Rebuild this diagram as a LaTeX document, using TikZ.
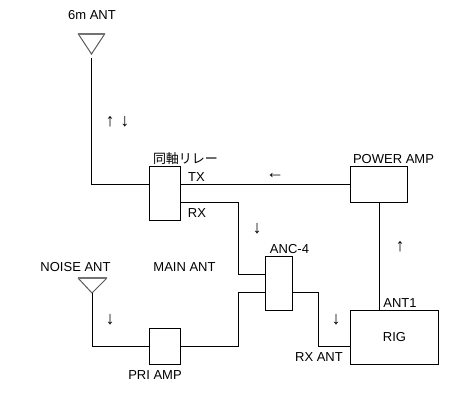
\documentclass[tikz,border=0pt]{standalone}
\usepackage{fontspec}
\setmainfont{Liberation Sans}
\newfontfamily\cjk{Noto Sans CJK JP}
\usetikzlibrary{calc}
\tikzset{
 box/.style={draw,line width=1pt,inner sep=0pt,minimum width=#1,font=\fontsize{13pt}{13pt}\selectfont},
 lbl/.style={inner sep=0pt,font=\fontsize{13pt}{13pt}\selectfont},
 dir/.style={inner sep=0pt,font=\fontsize{18pt}{18pt}\selectfont},
 wire/.style={line width=1pt},
 ant/.style={line width=1pt,draw=black!65},
 anttop/.style={line width=2pt,draw=black!55}
}
\begin{document}
\begin{tikzpicture}[x=1pt,y=-1pt]
 \useasboundingbox (0,0) rectangle (467,405);
 \node[box=31pt,minimum height=54pt] (relay) at (165,193) {};
 \node[box=57pt,minimum height=36pt] (pa) at (379,184.5) {};
 \node[box=27pt,minimum height=54pt] (anc) at (279,283) {};
 \node[box=31pt,minimum height=36pt] (pri) at (165,346) {};
 \node[box=88pt,minimum height=54pt] (rig) at (394.5,337) {RIG};
 % antennas
 \coordinate (sixtl) at (78,33.5);
 \coordinate (sixtr) at (105,33.5);
 \coordinate (sixtip) at (91.5,54);
 \coordinate (sixfeed) at (91.5,58);
 \draw[ant] (sixtl)--(sixtip)--(sixtr);
 \draw[anttop] (sixtl)--(sixtr);
 \coordinate (noisetl) at (78,278);
 \coordinate (noisetr) at (107,278);
 \coordinate (noisetip) at (92,293);
 \draw[ant] (noisetl)--(noisetip)--(noisetr);
 \draw[anttop] (noisetl)--(noisetr);
 % wires
 \coordinate (relayin) at ($(relay.west)+(0,-9)$);
 \coordinate (relaytx) at ($(relay.east)+(0,-9)$);
 \coordinate (relayrx) at ($(relay.east)+(0,9)$);
 \coordinate (ancmain) at ($(anc.west)+(0,-9)$);
 \coordinate (ancnoise) at ($(anc.west)+(0,9)$);
 \coordinate (ancout) at ($(anc.east)+(0,9)$);
 \coordinate (rigrx) at ($(rig.west)+(0,9)$);
 \coordinate (rigant) at (rig.north-|pa.south);
 \draw[wire] (sixfeed)--(sixfeed|-relayin)--(relayin);
 \draw[wire] (relaytx)--(relaytx-|pa.west);
 \draw[wire] (relayrx)--(238,202)--(238,274)--(ancmain);
 \draw[wire] (noisetip)--(noisetip|-pri.west)--(pri.west);
 \draw[wire] (pri.east)--(238,346)--(238,292)--(ancnoise);
 \draw[wire] (ancout)--(318,292)--(318,346)--(rigrx);
 \draw[wire] (pa.south)--(rigant);
 % labels
 \node[lbl] (sixlbl) at (92,15) {6m ANT};
 \node[lbl] (noiselbl) at (75.5,267) {NOISE ANT};
 \node[lbl] (mainlbl) at (184.5,267) {MAIN ANT};
 \node[lbl] (prilbl) at (155,375) {PRI AMP};
 \node[lbl,font=\fontsize{13pt}{13pt}\cjk] (relaylbl) at (185.5,159) {同軸リレー};
 \node[lbl] (txlbl) at (196.5,177) {TX};
 \node[lbl] (rxlbl) at (197,213) {RX};
 \node[lbl] (palbl) at (393.5,159) {POWER AMP};
 \node[lbl] (anclbl) at (289.5,249) {ANC-4};
 \node[lbl] (ant1lbl) at (400,303) {ANT1};
 \node[lbl] (rxantlbl) at (319,357) {RX ANT};
 % signal direction
 \node[dir] (upsix) at (110,122) {↑};
 \node[dir] (downsix) at (125,122) {↓};
 \node[dir] (lefttx) at (275,176) {←};
 \node[dir] (downrx) at (257,229) {↓};
 \node[dir] (uprig) at (400,247) {↑};
 \node[dir] (downanc) at (336,320) {↓};
 \node[dir] (downnoise) at (110,320) {↓};
\end{tikzpicture}
\end{document}
